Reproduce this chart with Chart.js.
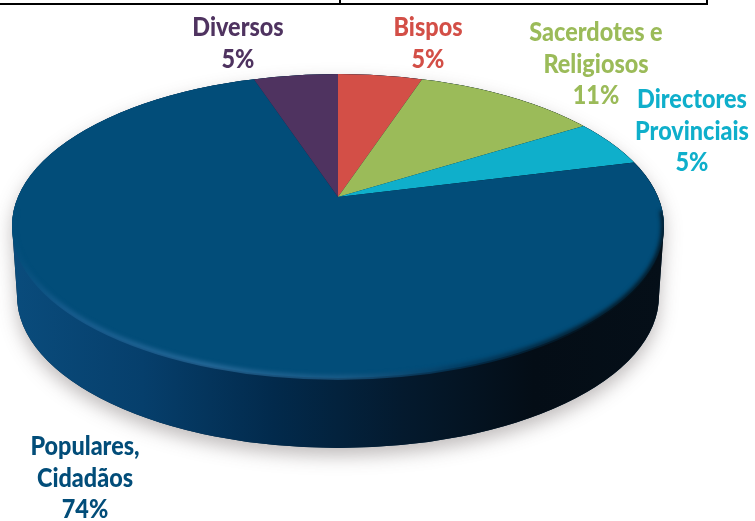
<!DOCTYPE html>
<html>
<head>
<meta charset="utf-8">
<style>
html, body { margin: 0; padding: 0; background: #fff; }
#wrap { width: 755px; height: 521px; }
</style>
<script src="https://cdn.jsdelivr.net/npm/chart.js@4"></script>
</head>
<body>
<div id="wrap"><canvas id="pie" width="755" height="521"></canvas></div>
<script>
const categories = ["Bispos", "Sacerdotes e Religiosos", "Directores Provinciais", "Populares, Cidadãos", "Diversos"];
const values = [5, 11, 5, 74, 5];
const colors = ["#d34f47", "#9bbb59", "#0fafcb", "#024d79", "#4f3360"];
const labelLines = [["Bispos", "5%"], ["Sacerdotes e", "Religiosos", "11%"], ["Directores", "Provinciais", "5%"], ["Populares,", "Cidadãos", "74%"], ["Diversos", "5%"]];
const labelSpots = [[428, 28], [596, 33], [692, 100], [85, 447], [238, 28]];

// top face and side wall of the disc
const face = { x: 338, y: 226, rx: 326, ry: 152 };
const wall = { x: 338, y: 296, rx: 321, ry: 152 };
const apex = { x: 338, y: 197 };
const squash = 0.455;
const wide = 1.68;

function ellipsePath(ctx, e) {
    ctx.beginPath();
    ctx.ellipse(e.x, e.y, e.rx, e.ry, 0, 0, Math.PI * 2);
}

function wallPath(ctx) {
    ctx.beginPath();
    ctx.ellipse(wall.x, wall.y, wall.rx, wall.ry, 0, 0, Math.PI);
    ctx.ellipse(face.x, face.y, face.rx, face.ry, 0, Math.PI, Math.PI * 2);
    ctx.closePath();
}

const discPlugin = {
    id: "disc",
    beforeDatasetDraw(chart) {
        const ctx = chart.ctx;
        const arc = chart.getDatasetMeta(0).data[0];

        // soft shadow under the disc
        ctx.save();
        ctx.shadowColor = "rgba(90,80,80,0.38)";
        ctx.shadowBlur = 18;
        ctx.shadowOffsetY = 8;
        ctx.fillStyle = "#03263f";
        wallPath(ctx);
        ctx.fill();
        ctx.restore();

        const side = ctx.createLinearGradient(12, 0, 664, 0);
        side.addColorStop(0, "#0a4c7c");
        side.addColorStop(0.2, "#063f6c");
        side.addColorStop(0.4, "#022a4c");
        side.addColorStop(0.6, "#041a2e");
        side.addColorStop(0.8, "#040d16");
        side.addColorStop(1, "#050f18");
        ctx.fillStyle = side;
        wallPath(ctx);
        ctx.fill();

        // slices share the apex, the face ellipse trims them
        ctx.save();
        ellipsePath(ctx, face);
        ctx.clip();
        ctx.translate(apex.x, apex.y);
        ctx.scale(wide, wide * squash);
        ctx.translate(-arc.x, -arc.y);
    },
    afterDatasetDraw(chart) {
        const ctx = chart.ctx;
        ctx.restore();

        // rim light on the lower edge, dark on the right
        const rim = ctx.createLinearGradient(12, 0, 664, 0);
        rim.addColorStop(0, "#024d79");
        rim.addColorStop(0.08, "#1a5e90");
        rim.addColorStop(0.3, "#2a6c9c");
        rim.addColorStop(0.52, "#1c5c88");
        rim.addColorStop(0.68, "#033a5f");
        rim.addColorStop(0.9, "#04141f");
        rim.addColorStop(1, "#04141f");
        ctx.save();
        ellipsePath(ctx, { x: face.x, y: face.y + 2, rx: face.rx, ry: face.ry });
        ctx.clip();
        ctx.filter = "blur(2px)";
        ctx.strokeStyle = rim;
        ctx.lineWidth = 5;
        ctx.beginPath();
        ctx.ellipse(face.x, face.y, face.rx, face.ry, 0, -0.1, Math.PI + 0.1);
        ctx.stroke();
        ctx.restore();
    },
    afterDraw(chart) {
        const ctx = chart.ctx;

        // table border cut off at the top of the picture
        ctx.fillStyle = "#000";
        ctx.fillRect(0, 3, 707, 2);
        ctx.fillRect(339, 0, 2, 4);
        ctx.fillRect(706, 0, 2, 5);

        ctx.font = "900 26px Lato, 'Open Sans', sans-serif";
        ctx.textAlign = "center";
        ctx.textBaseline = "middle";
        labelLines.forEach((lines, i) => {
            ctx.fillStyle = colors[i];
            lines.forEach((line, j) => {
                ctx.save();
                ctx.translate(labelSpots[i][0], labelSpots[i][1] + j * 31.5);
                ctx.scale(0.9, 1);
                ctx.fillText(line, 0, 0);
                ctx.restore();
            });
        });
    }
};

new Chart(document.getElementById("pie"), {
    type: "pie",
    data: {
        labels: categories,
        datasets: [{
            data: values,
            backgroundColor: colors,
            borderWidth: 0,
            clip: false
        }]
    },
    options: {
        responsive: false,
        animation: false,
        plugins: { legend: { display: false }, tooltip: { enabled: false } }
    },
    plugins: [discPlugin]
});
</script>
</body>
</html>
